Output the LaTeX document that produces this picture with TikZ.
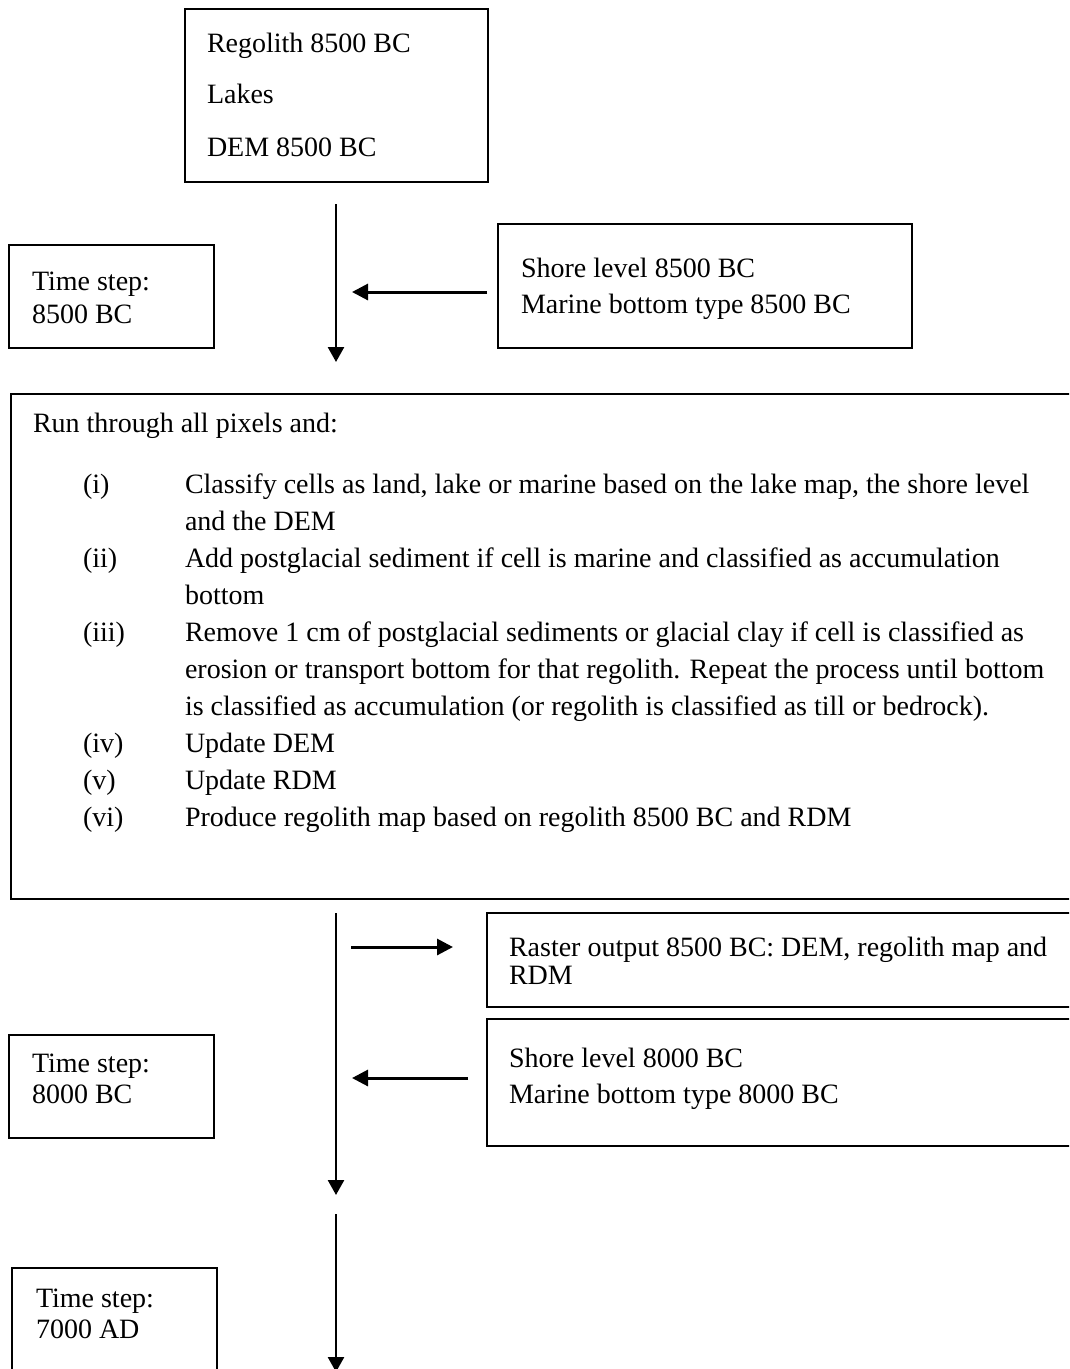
\documentclass[tikz,border=0pt]{standalone}
\usepackage{fontspec}
\setmainfont{Liberation Serif}
\usetikzlibrary{arrows.meta}
\tikzset{
  box/.style={draw, line width=2pt, outer sep=0pt, inner sep=0pt, anchor=north west},
  txt/.style={anchor=base west, inner sep=0pt, outer sep=0pt, font=\fontsize{28}{34}\selectfont},
  varr/.style={line width=2.6pt, -{Triangle[length=15pt,width=16pt]}},
  harr/.style={line width=3pt, -{Triangle[length=16pt,width=16pt]}},
}
\begin{document}
\begin{tikzpicture}[x=1pt,y=-1pt]
\useasboundingbox (0,0) rectangle (1069,1369);
\clip (0,0) rectangle (1069,1369);
% ---- boxes ----
\node[box, minimum width=303pt, minimum height=173pt] (src) at (185,9) {};
\node[box, minimum width=205pt, minimum height=103pt] (ts1) at (9,245) {};
\node[box, minimum width=414pt, minimum height=124pt] (sh1) at (498,224) {};
\node[box, minimum width=1090pt, minimum height=505pt] (run) at (11,394) {};
\node[box, minimum width=600pt, minimum height=94pt] (ras) at (487,913) {};
\node[box, minimum width=600pt, minimum height=127pt] (sh2) at (487,1019) {};
\node[box, minimum width=205pt, minimum height=103pt] (ts2) at (9,1035) {};
\node[box, minimum width=205pt, minimum height=130pt] (ts3) at (12,1268) {};
% ---- texts ----
\node[txt] (t1a) at (207,52) {Regolith 8500 BC};
\node[txt] (t1b) at (207,103) {Lakes};
\node[txt] (t1c) at (207,156) {DEM 8500 BC};
\node[txt] (t2a) at (32,290) {Time step:};
\node[txt] (t2b) at (32,323) {8500 BC};
\node[txt] (t3a) at (521,277) {Shore level 8500 BC};
\node[txt] (t3b) at (521,313) {Marine bottom type 8500 BC};
\node[txt] (r0) at (33,432) {Run through all pixels and:};
\node[txt] (l1) at (83,493) {(i)};
\node[txt] (r1) at (185,493) {Classify cells as land, lake or marine based on the lake map, the shore level};
\node[txt] (r1b) at (185,530) {and the DEM};
\node[txt] (l2) at (83,567) {(ii)};
\node[txt] (r2) at (185,567) {Add postglacial sediment if cell is marine and classified as accumulation};
\node[txt] (r2b) at (185,604) {bottom};
\node[txt] (l3) at (83,641) {(iii)};
\node[txt] (r3) at (185,641) {Remove 1 cm of postglacial sediments or glacial clay if cell is classified as};
\node[txt] (r3b) at (185,678) {erosion or transport bottom for that regolith. Repeat the process until bottom};
\node[txt] (r3c) at (185,715) {is classified as accumulation (or regolith is classified as till or bedrock).};
\node[txt] (l4) at (83,752) {(iv)};
\node[txt] (r4) at (185,752) {Update DEM};
\node[txt] (l5) at (83,789) {(v)};
\node[txt] (r5) at (185,789) {Update RDM};
\node[txt] (l6) at (83,826) {(vi)};
\node[txt] (r6) at (185,826) {Produce regolith map based on regolith 8500 BC and RDM};
\node[txt] (t4a) at (509,956) {Raster output 8500 BC: DEM, regolith map and};
\node[txt] (t4b) at (509,984) {RDM};
\node[txt] (t5a) at (509,1067) {Shore level 8000 BC};
\node[txt] (t5b) at (509,1103) {Marine bottom type 8000 BC};
\node[txt] (t6a) at (32,1072) {Time step:};
\node[txt] (t6b) at (32,1103) {8000 BC};
\node[txt] (t7a) at (36,1307) {Time step:};
\node[txt] (t7b) at (36,1338) {7000 AD};
% ---- connector ends ----
\coordinate (v1s) at (336,204);
\coordinate (v1e) at (336,362);
\coordinate (h1s) at (487,292);
\coordinate (h1e) at (352,292);
\coordinate (v2s) at (336,913);
\coordinate (v2e) at (336,1195);
\coordinate (h2s) at (351,947);
\coordinate (h2e) at (453,947);
\coordinate (h3s) at (468,1078);
\coordinate (h3e) at (352,1078);
\coordinate (v3s) at (336,1214);
\coordinate (v3e) at (336,1372);
% ---- connectors ----
\draw[varr] (v1s) -- (v1e);
\draw[harr] (h1s) -- (h1e);
\draw[varr] (v2s) -- (v2e);
\draw[harr] (h2s) -- (h2e);
\draw[harr] (h3s) -- (h3e);
\draw[varr] (v3s) -- (v3e);
\end{tikzpicture}
\end{document}
